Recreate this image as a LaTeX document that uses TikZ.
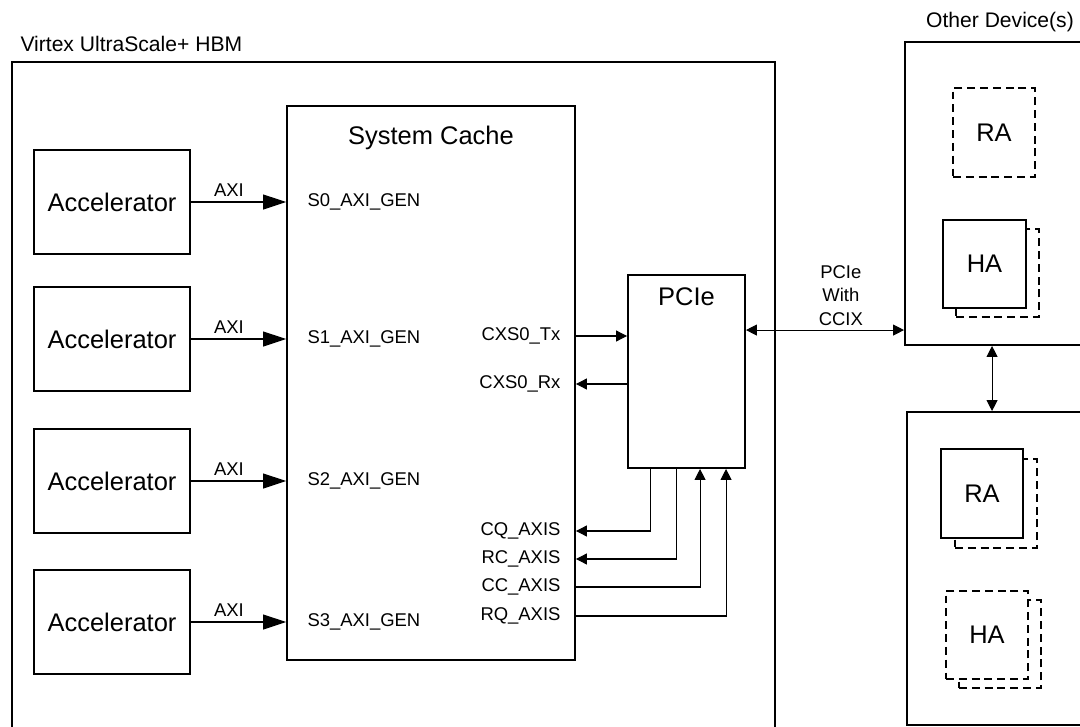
\documentclass[tikz,border=0pt]{standalone}
\usepackage{fontspec}
\setmainfont{Liberation Sans}
\usetikzlibrary{arrows.meta,calc}
\tikzset{every picture/.style={semithick}}
\tikzset{
  box/.style={draw,line width=1.1pt,inner sep=0pt},
  ghost/.style={box,dash pattern=on 4.5pt off 2.8pt,fill=white},
  port/.style={inner sep=0pt,font=\fontsize{10.5}{12}\selectfont},
  big/.style={font=\fontsize{14.5}{17}\selectfont},
  mid/.style={font=\fontsize{12}{14}\selectfont},
  axiarr/.style={-{Triangle[length=0.46cm,width=0.3cm]}},
  sig/.style={-{Triangle[length=0.22cm,width=0.22cm]}},
  bisig/.style={{Triangle[length=0.22cm,width=0.22cm]}-{Triangle[length=0.22cm,width=0.22cm]}},
}

\begin{document}
\begin{tikzpicture}[x=0.02cm,y=-0.02cm]
  \clip (0,0) rectangle (1080,727);

  % FPGA
  \draw[line width=1.1pt] (12,62) rectangle (775,740);
  \node[mid,anchor=west,inner sep=0pt] (fpga) at (20,44) {Virtex UltraScale+ HBM};

  \node[box,minimum width=5.76cm,minimum height=11.08cm] (cache) at (431,383) {};
  \node[big] (cachetitle) at (431,138) {System Cache};

  \foreach \i/\yy in {0/202,1/339,2/481,3/622} {
    \node[box,big,minimum width=3.12cm,minimum height=2.08cm] (acc\i) at (112,\yy) {Accelerator};
    \node[port,anchor=west] (s\i) at (307,\yy) {S\i\_AXI\_GEN};
    \draw[axiarr] (acc\i) -- (acc\i -| cache.west) node[port,pos=0.4,above=3pt] {AXI};
  }

  % PCIe block
  \node[box,minimum width=2.34cm,minimum height=3.86cm] (pcie) at (686.5,371.5) {};
  \node[big] (pcietitle) at (686.5,297) {PCIe};

  \node[port,anchor=east] (tx) at (561,336) {CXS0\_Tx};
  \node[port,anchor=east] (rx) at (561,384) {CXS0\_Rx};
  \node[port,anchor=east] (cq) at (561,531) {CQ\_AXIS};
  \node[port,anchor=east] (rc) at (561,559) {RC\_AXIS};
  \node[port,anchor=east] (cc) at (561,587) {CC\_AXIS};
  \node[port,anchor=east] (rq) at (561,616) {RQ\_AXIS};

  \draw[sig] (tx.east -| cache.east) -- (tx.east -| pcie.west);
  \draw[sig] (rx.east -| pcie.west) -- (rx.east -| cache.east);
  \draw[sig] ($(pcie.south west)+(23,0)$) |- (cq.east -| cache.east);
  \draw[sig] ($(pcie.south west)+(49,0)$) |- (rc.east -| cache.east);
  \draw[sig] (cc.east -| cache.east) -| ($(pcie.south west)+(73,0)$);
  \draw[sig] (rq.east -| cache.east) -| ($(pcie.south west)+(99,0)$);

  % other devices
  \node[box,minimum width=3.7cm,minimum height=6.06cm] (dev1) at (997.5,193.5) {};
  \node[mid] (devtitle) at (1000,22) {Other Device(s)};
  \node[box,minimum width=3.66cm,minimum height=6.26cm] (dev2) at (998.5,568.5) {};

  \coordinate (lnk) at ($(pcie.north east)+(0,56)$);
  \draw[bisig] (lnk) -- (lnk -| dev1.west)
    node[pos=0.6,above=2pt,align=center,inner sep=0pt,font=\fontsize{10.5}{13.6}\selectfont] {PCIe\\With\\CCIX};

  \coordinate (vl) at ($(dev1.south west)+(88,0)$);
  \draw[bisig] (vl) -- (vl |- dev2.north);

  \node[ghost,big,minimum width=1.64cm,minimum height=1.78cm] (ra1) at (994,132.5) {RA};
  \node[ghost,minimum width=1.66cm,minimum height=1.76cm] (ha1s) at (997.5,273) {};
  \node[box,fill=white,big,minimum width=1.66cm,minimum height=1.76cm] (ha1) at (984.5,264) {HA};

  \node[ghost,minimum width=1.64cm,minimum height=1.78cm] (ra2s) at (996,503.5) {};
  \node[box,fill=white,big,minimum width=1.64cm,minimum height=1.78cm] (ra2) at (982,493.5) {RA};
  \node[ghost,minimum width=1.64cm,minimum height=1.76cm] (ha2s) at (1000,644) {};
  \node[ghost,big,minimum width=1.64cm,minimum height=1.76cm] (ha2) at (987,635) {HA};
\end{tikzpicture}
\end{document}
